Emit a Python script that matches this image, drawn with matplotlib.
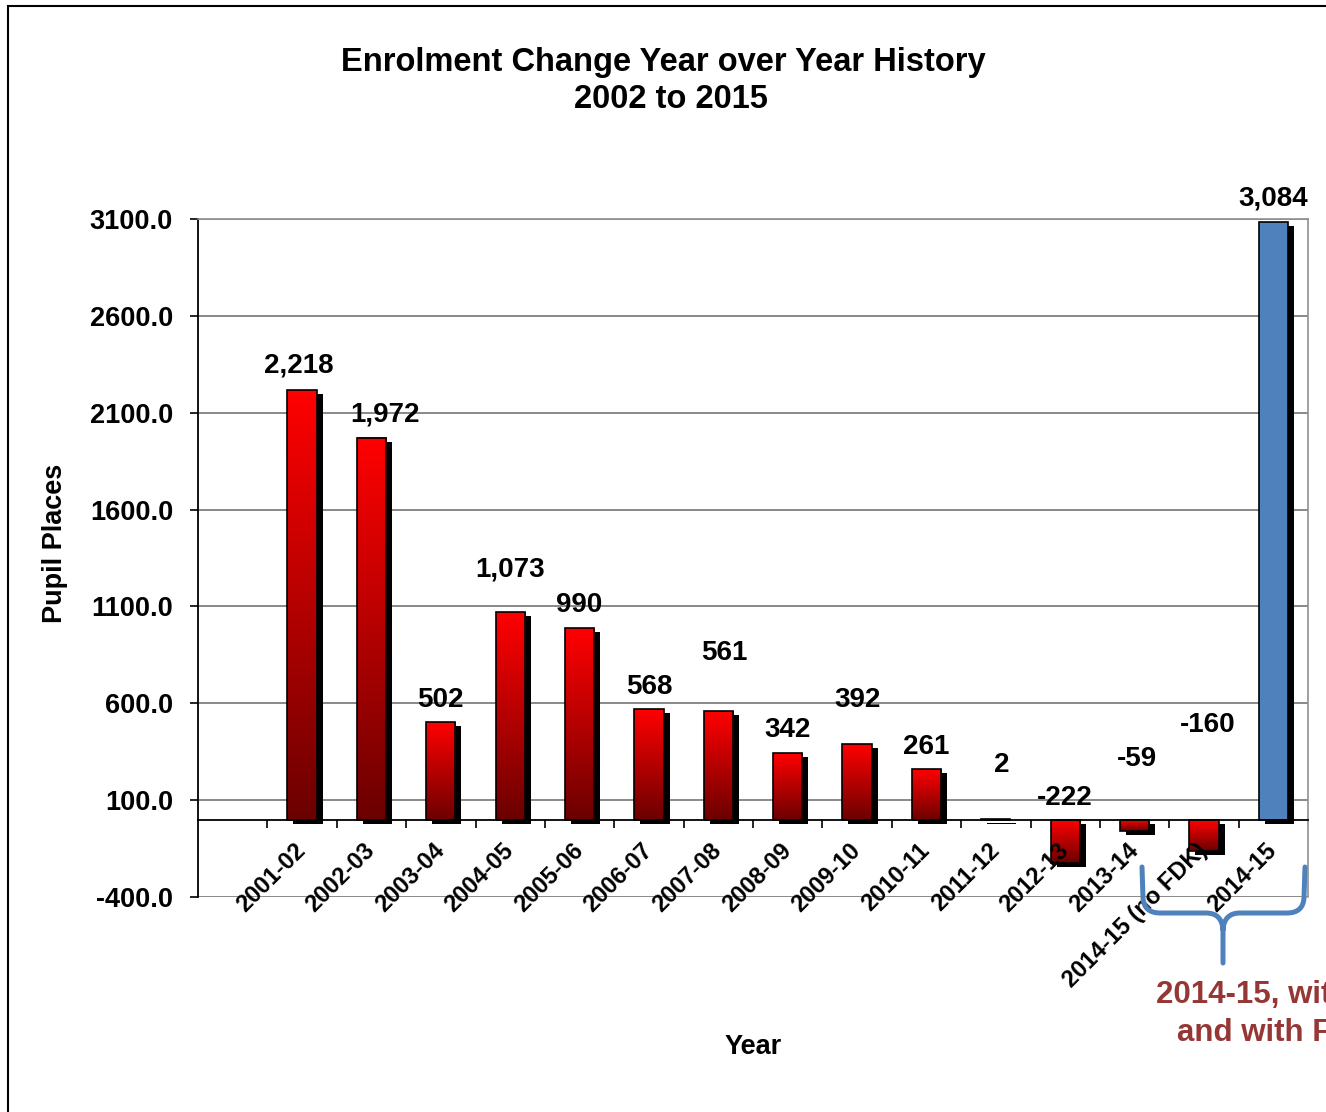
import numpy as np
import matplotlib
matplotlib.use('Agg')
import matplotlib.pyplot as plt
import matplotlib.transforms as mtransforms
from matplotlib.colors import LinearSegmentedColormap
from matplotlib.patches import Rectangle, PathPatch
from matplotlib.path import Path
from matplotlib.ticker import FormatStrFormatter

plt.rcParams['font.family'] = ['Liberation Sans', 'DejaVu Sans']
plt.rcParams['font.weight'] = 'bold'

# data
years = ['2001-02', '2002-03', '2003-04', '2004-05', '2005-06', '2006-07', '2007-08',
         '2008-09', '2009-10', '2010-11', '2011-12', '2012-13', '2013-14',
         '2014-15 (no FDK)', '2014-15']
change = [2218, 1972, 502, 1073, 990, 568, 561, 342, 392, 261, 2, -222, -59, -160, 3084]
# the last bar (with FDK) is blue, the rest use the red gradient
is_fdk = [False] * 14 + [True]

# where the value labels sit (offset above the bar top, in data units / categories)
label_dy = [124, 117, 115, 216, 118, 117, 299, 121, 225, 114, 280, 111, 313, 488, 120]
label_dx = [-0.04, 0.19, 0, 0, 0, 0, 0.09, 0, 0, 0, 0.09, 0, 0.03, 0.06, 0]

W, H = 1326, 1112
fig = plt.figure(figsize=(W / 100, H / 100), dpi=100)
ax = fig.add_axes([198 / W, 1 - 897 / H, 1110 / W, 678 / H])

x = np.arange(len(years))
w = 0.42

# drop shadows
shadow_tr = mtransforms.offset_copy(ax.transData, fig=fig, x=6, y=-4, units='dots')
ax.bar(x, change, w, color='black', transform=shadow_tr, zorder=1.0)

# gradient fill for the red bars
red_cmap = LinearSegmentedColormap.from_list('redgrad', ['#6B0000', '#FF0000'])
grad = np.linspace(0, 1, 256).reshape(-1, 1)
for xi, v, blue in zip(x, change, is_fdk):
    if blue:
        continue
    ax.imshow(grad, cmap=red_cmap, origin='lower', aspect='auto', interpolation='bilinear',
              extent=(xi - w / 2, xi + w / 2, min(v, 0), max(v, 0)), zorder=1.1)

faces = ['#4F81BD' if b else 'none' for b in is_fdk]
ax.bar(x, change, w, facecolor=faces, edgecolor='black', linewidth=1.2, zorder=1.2)

ax.set_xlim(-1.5, 14.5)
ax.set_ylim(-400, 3100)
ax.set_aspect('auto')

# gridlines
yticks = np.arange(-400, 3101, 500)
for t in yticks:
    ax.axhline(t, color='#808080', lw=1.3, zorder=0.5)

ax.spines['left'].set_color('black')
ax.spines['left'].set_linewidth(1.3)
ax.spines['bottom'].set_position(('data', 0))
ax.spines['bottom'].set_color('black')
ax.spines['bottom'].set_linewidth(1.3)
for s in ['top', 'right']:
    ax.spines[s].set_color('#909090')
    ax.spines[s].set_linewidth(1.2)

ax.set_yticks(yticks)
ax.yaxis.set_major_formatter(FormatStrFormatter('%.1f'))
ax.tick_params(axis='y', length=6, width=1.2, pad=12, labelsize=19.5)

ax.set_xticks(np.arange(-0.5, 14, 1))
ax.set_xticklabels([])
ax.set_xticks(x, minor=True)
ax.set_xticklabels(years, minor=True, rotation=45, ha='right', va='center',
                   rotation_mode='anchor', fontsize=17)
ax.tick_params(axis='x', which='major', length=6, width=1.2)
ax.tick_params(axis='x', which='minor', length=0, pad=20)

# value labels
for xi, v, dy, dx in zip(x, change, label_dy, label_dx):
    ax.text(xi + dx, max(v, 0) + dy, f'{v:,}', ha='center', va='center',
            fontsize=20, fontweight='bold', zorder=4)

fig.text(663 / W, 1 - 63 / H, 'Enrolment Change Year over Year History',
         ha='center', va='center', fontsize=23.5)
fig.text(671 / W, 1 - 100 / H, '2002 to 2015', ha='center', va='center', fontsize=23.5)
fig.text(55 / W, 1 - 543 / H, 'Pupil Places', rotation=90, ha='center', va='center', fontsize=19.5)
fig.text(753 / W, 1 - 1047 / H, 'Year', ha='center', va='center', fontsize=19.5)

# brace under the two 2014-15 bars
def fp(px, py):
    return (px / W, 1 - py / H)

left = [(1142, 867), (1143, 898), (1144, 913), (1160, 913), (1206, 913), (1222, 913), (1223, 930), (1223, 963)]
right = [(1305, 867), (1304, 898), (1303, 913), (1287, 913), (1240, 913), (1224, 913), (1223, 930)]
codes_l = [Path.MOVETO, Path.LINETO, Path.CURVE3, Path.CURVE3, Path.LINETO, Path.CURVE3, Path.CURVE3, Path.LINETO]
codes_r = codes_l[:-1]
brace = Path([fp(*p) for p in left] + [fp(*p) for p in right], codes_l + codes_r)
fig.add_artist(PathPatch(brace, transform=fig.transFigure, fill=False,
                         edgecolor='#4F81BD', lw=3.6, capstyle='round', joinstyle='round'))

# note runs off the right edge, as in the original slide
fig.text(1277 / W, 1 - 995 / H, '2014-15, without', color='#953735',
         ha='center', va='center', fontsize=22.5)
fig.text(1277 / W, 1 - 1033 / H, 'and with FDK', color='#953735',
         ha='center', va='center', fontsize=22.5)

# outer border
fig.add_artist(Rectangle((8 / W, -0.1), 1.2, 1.1 - 6 / H, transform=fig.transFigure,
                         fill=False, edgecolor='black', lw=1.5))

fig.savefig('out.png', dpi=100)
